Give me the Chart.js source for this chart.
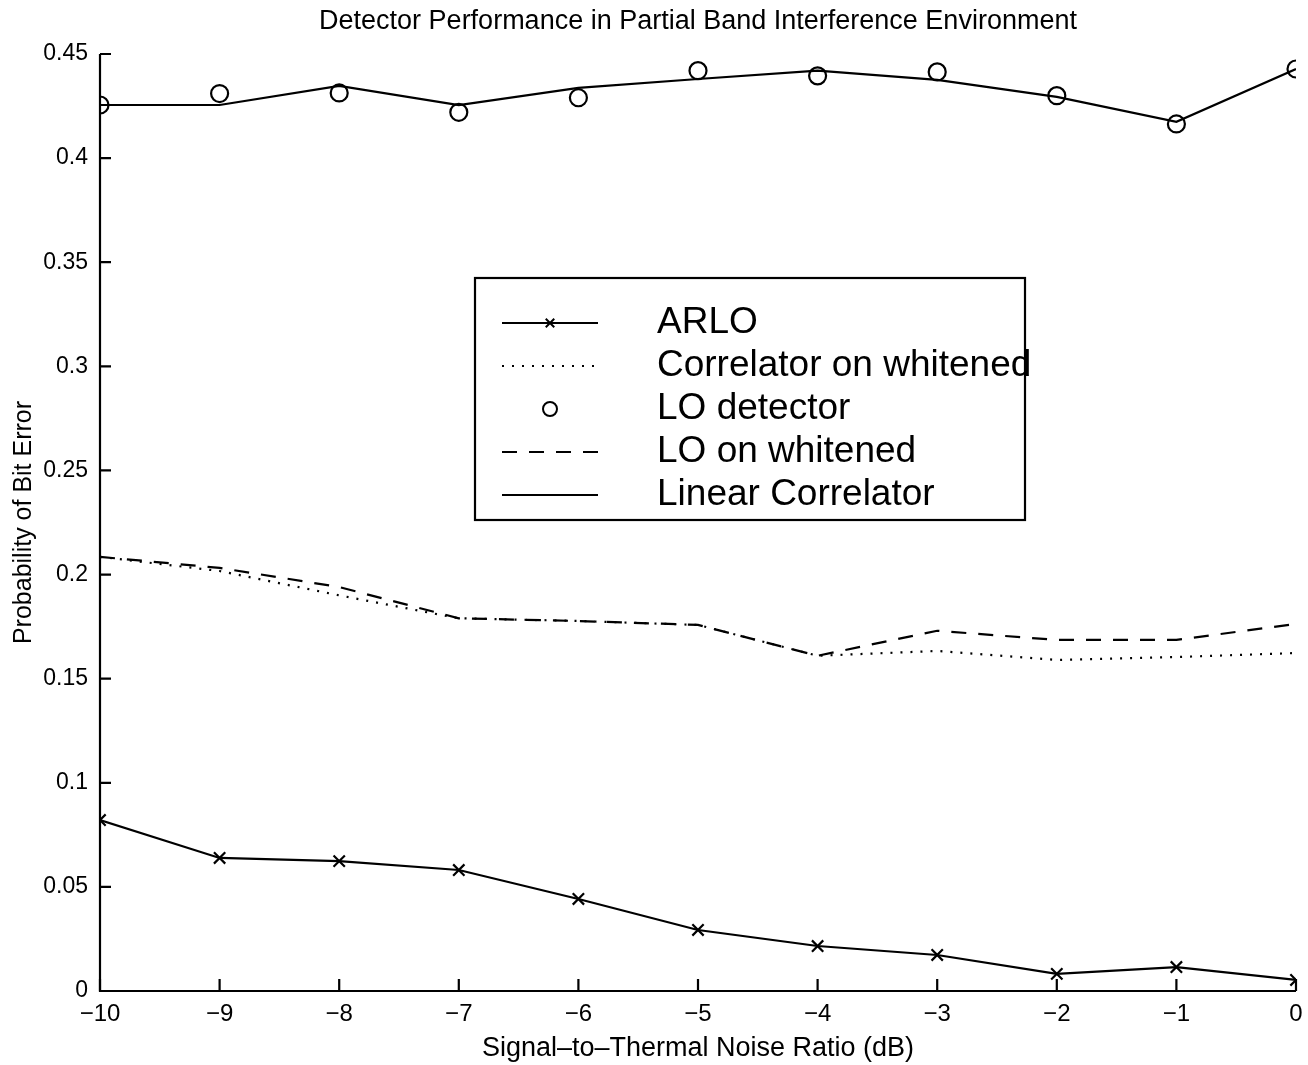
<!DOCTYPE html>
<html>
<head>
<meta charset="utf-8">
<script src="https://cdn.jsdelivr.net/npm/chart.js@4/dist/chart.umd.min.js"></script>
<style>
  html, body { margin: 0; padding: 0; background: #fff; overflow: hidden; }
  #wrap { width: 1308px; height: 1065px; position: relative; }
  canvas { display: block; }
</style>
</head>
<body>
<div id="wrap"><canvas id="c"></canvas></div>
<script>
const snrDb = [-10, -9, -8, -7, -6, -5, -4, -3, -2, -1, 0];
const arlo = [0.0821, 0.0639, 0.0624, 0.0581, 0.0442, 0.0293, 0.0216, 0.0173, 0.0082, 0.0115, 0.0053];
const corrWhitened = [0.2085, 0.2017, 0.1900, 0.1790, 0.1777, 0.1758, 0.1610, 0.1633, 0.1590, 0.1604, 0.1623];
const loDetector = [0.4255, 0.4310, 0.4313, 0.4220, 0.4290, 0.4420, 0.4395, 0.4414, 0.4300, 0.4164, 0.4428];
const loWhitened = [0.2085, 0.2032, 0.1940, 0.1790, 0.1777, 0.1758, 0.1610, 0.1730, 0.1686, 0.1686, 0.1763];
const linearCorr = [0.4255, 0.4255, 0.4347, 0.4255, 0.4337, 0.4380, 0.4420, 0.4376, 0.4294, 0.4174, 0.4428];
const seriesNames = ["ARLO", "Correlator on whitened", "LO detector", "LO on whitened", "Linear Correlator"];
const yTicks = [0, 0.05, 0.1, 0.15, 0.2, 0.25, 0.3, 0.35, 0.4, 0.45];
const titleText = "Detector Performance in Partial Band Interference Environment";
const xTitle = "Signal\u2013to\u2013Thermal Noise Ratio (dB)";
const yTitle = "Probability of Bit Error";

const FONT = "'Liberation Sans', Arial, Helvetica, sans-serif";
const pts = arr => snrDb.map((x, i) => ({x: x, y: arr[i]}));

const datasets = [
  {label: seriesNames[0], data: pts(arlo), borderColor: '#000', backgroundColor: '#000', borderWidth: 2.2,
   pointStyle: 'crossRot', pointRadius: 8, pointBorderWidth: 2.2, showLine: true},
  {label: seriesNames[1], data: pts(corrWhitened), borderColor: '#000', borderWidth: 2.2, borderDash: [2, 8],
   pointRadius: 0, showLine: true},
  {label: seriesNames[2], data: pts(loDetector), borderColor: '#000', backgroundColor: 'rgba(0,0,0,0)', borderWidth: 2.2,
   pointStyle: 'circle', pointRadius: 8.5, pointBorderWidth: 2.2, showLine: false},
  {label: seriesNames[3], data: pts(loWhitened), borderColor: '#000', borderWidth: 2.2, borderDash: [15, 12],
   pointRadius: 0, showLine: true},
  {label: seriesNames[4], data: pts(linearCorr), borderColor: '#000', borderWidth: 2.2,
   pointRadius: 0, showLine: true}
];

const decor = {
  id: 'decor',
  afterDraw(chart) {
    const ctx = chart.ctx;
    const a = chart.chartArea;
    const xs = chart.scales.x, ys = chart.scales.y;
    ctx.save();
    // axes
    ctx.strokeStyle = '#000';
    ctx.lineWidth = 2.2;
    ctx.beginPath();
    ctx.moveTo(a.left, a.top); ctx.lineTo(a.left, a.bottom); ctx.lineTo(a.right, a.bottom);
    ctx.stroke();
    // inward ticks
    ctx.beginPath();
    yTicks.forEach(v => { const y = ys.getPixelForValue(v); ctx.moveTo(a.left, y); ctx.lineTo(a.left + 11, y); });
    snrDb.forEach(v => { const x = xs.getPixelForValue(v); ctx.moveTo(x, a.bottom); ctx.lineTo(x, a.bottom - 12); });
    ctx.stroke();
    // title
    ctx.fillStyle = '#000';
    ctx.font = "27px " + FONT;
    ctx.textAlign = 'center'; ctx.textBaseline = 'middle';
    ctx.fillText(titleText, (a.left + a.right) / 2, 22);
    // legend
    const L = 475, T = 278, R = 1025, B = 520;
    ctx.fillStyle = '#fff';
    ctx.fillRect(L, T, R - L, B - T);
    ctx.lineWidth = 2.2; ctx.strokeStyle = '#000';
    ctx.strokeRect(L, T, R - L, B - T);
    const rows = [323, 366, 409, 452, 495];
    chart.data.datasets.forEach((ds, i) => {
      const y = rows[i];
      ctx.save();
      ctx.strokeStyle = '#000'; ctx.lineWidth = 2;
      if (ds.showLine) {
        ctx.setLineDash(ds.borderDash || []);
        ctx.beginPath(); ctx.moveTo(502, y); ctx.lineTo(598, y); ctx.stroke();
        ctx.setLineDash([]);
      }
      if (ds.pointRadius > 0) {
        ctx.fillStyle = 'rgba(0,0,0,0)';
        Chart.helpers.drawPoint(ctx, {pointStyle: ds.pointStyle, radius: ds.pointStyle === 'circle' ? 7 : 6,
          borderWidth: 2, rotation: 0}, 550, y);
      }
      ctx.restore();
      ctx.fillStyle = '#000';
      ctx.font = "37px " + FONT;
      ctx.textAlign = 'left'; ctx.textBaseline = 'middle';
      ctx.fillText(ds.label, 657, y);
    });
    ctx.restore();
  }
};

new Chart(document.getElementById('c'), {
  type: 'scatter',
  data: { datasets: datasets },
  options: {
    responsive: true,
    maintainAspectRatio: false,
    animation: false,
    layout: { padding: { top: 54, right: 12, left: 0, bottom: 0 } },
    plugins: { legend: { display: false }, tooltip: { enabled: false } },
    scales: {
      x: {
        type: 'linear', min: -10, max: 0,
        afterFit(s) { s.height = 74; s.paddingLeft = 0; s.paddingRight = 0; },
        border: { display: false },
        grid: { display: false, drawTicks: false },
        ticks: {
          stepSize: 1, padding: 9, color: '#000',
          font: { family: FONT, size: 24 },
          callback: v => (v < 0 ? '\u2212' + Math.abs(v) : String(v))
        },
        title: { display: true, text: xTitle, color: '#000', font: { family: FONT, size: 27 }, padding: { top: 0, bottom: 0 } }
      },
      y: {
        type: 'linear', min: 0, max: 0.45,
        afterFit(s) { s.width = 100; s.paddingTop = 0; s.paddingBottom = 0; },
        afterBuildTicks(s) { s.ticks = yTicks.map(v => ({value: v})); },
        border: { display: false },
        grid: { display: false, drawTicks: false },
        ticks: {
          padding: 12, color: '#000',
          font: { family: FONT, size: 23 },
          callback: v => String(Math.round(v * 100) / 100)
        },
        title: { display: true, text: yTitle, color: '#000', font: { family: FONT, size: 25 }, padding: { top: 9, bottom: 0 } }
      }
    }
  },
  plugins: [decor]
});
</script>
</body>
</html>
